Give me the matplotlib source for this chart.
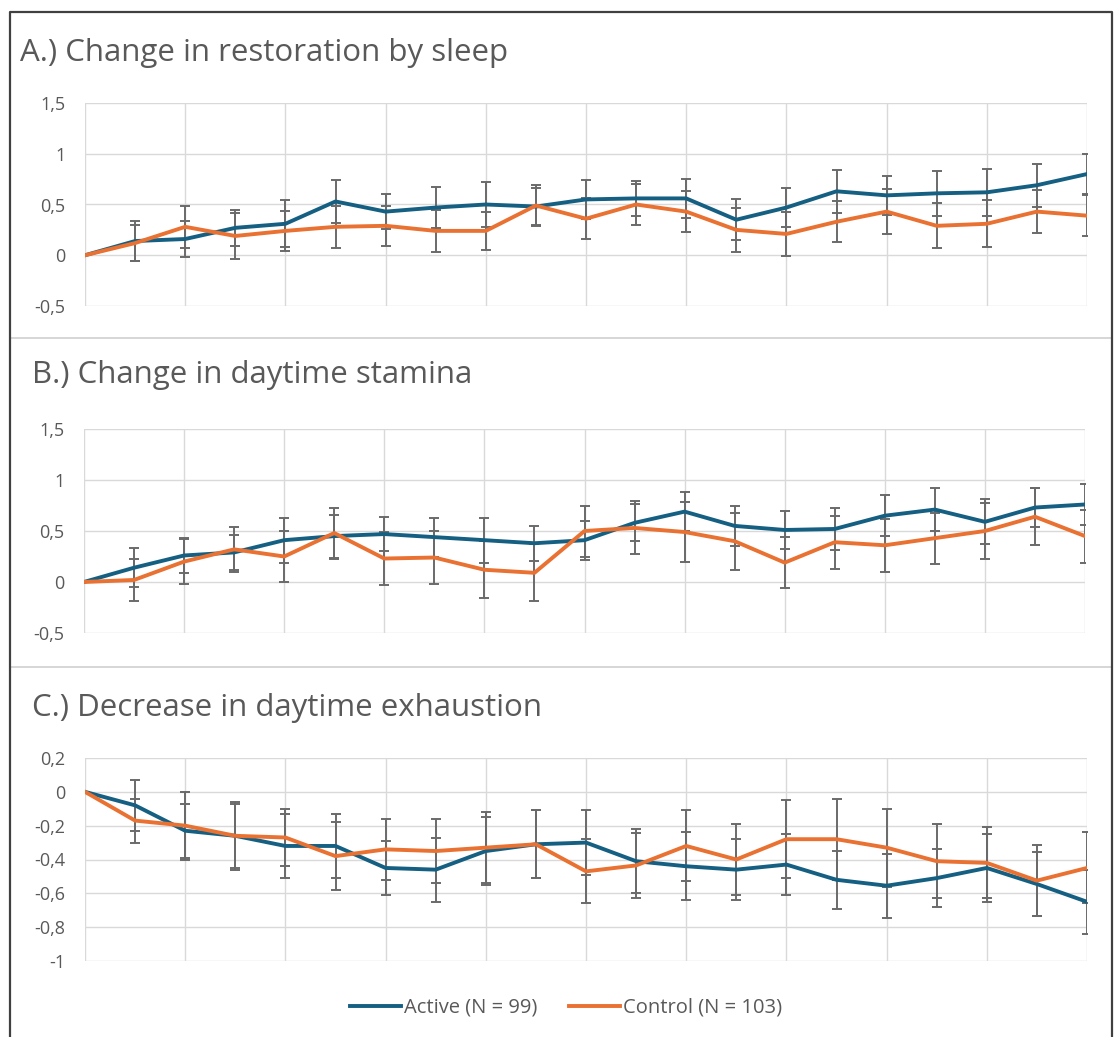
import matplotlib
matplotlib.use("Agg")
import matplotlib.pyplot as plt
from matplotlib.lines import Line2D
from matplotlib.ticker import FuncFormatter, MultipleLocator

plt.rcParams['font.family'] = ['Open Sans', 'DejaVu Sans']

W, H = 1115, 1037

days = list(range(21))

titles = ["A.) Change in restoration by sleep",
          "B.) Change in daytime stamina",
          "C.) Decrease in daytime exhaustion"]

series_names = ["Active (N = 99)", "Control (N = 103)"]

# Panel A
a_active = [0, 0.14, 0.16, 0.27, 0.31, 0.53, 0.43, 0.47, 0.50, 0.48, 0.55,
            0.56, 0.56, 0.35, 0.47, 0.63, 0.59, 0.61, 0.62, 0.69, 0.80]
a_active_err = [0, 0.20, 0.18, 0.18, 0.23, 0.21, 0.17, 0.20, 0.22, 0.18, 0.19,
                0.17, 0.19, 0.20, 0.19, 0.21, 0.19, 0.22, 0.23, 0.21, 0.20]
a_control = [0, 0.12, 0.28, 0.19, 0.24, 0.28, 0.29, 0.24, 0.24, 0.49, 0.36,
             0.50, 0.43, 0.25, 0.21, 0.33, 0.43, 0.29, 0.31, 0.43, 0.39]
a_control_err = [0, 0.18, 0.21, 0.23, 0.20, 0.21, 0.20, 0.21, 0.19, 0.20, 0.20,
                 0.20, 0.20, 0.22, 0.22, 0.20, 0.22, 0.22, 0.23, 0.21, 0.20]

# Panel B
b_active = [0, 0.14, 0.26, 0.29, 0.41, 0.45, 0.47, 0.44, 0.41, 0.38, 0.41,
            0.58, 0.69, 0.55, 0.51, 0.52, 0.65, 0.71, 0.59, 0.73, 0.76]
b_active_err = [0, 0.19, 0.17, 0.17, 0.22, 0.21, 0.17, 0.19, 0.22, 0.17, 0.19,
                0.18, 0.19, 0.20, 0.19, 0.21, 0.20, 0.21, 0.22, 0.19, 0.20]
b_control = [0, 0.02, 0.20, 0.32, 0.25, 0.48, 0.23, 0.24, 0.12, 0.09, 0.50,
             0.53, 0.49, 0.40, 0.19, 0.39, 0.36, 0.43, 0.50, 0.64, 0.45]
b_control_err = [0, 0.21, 0.22, 0.22, 0.25, 0.25, 0.26, 0.26, 0.28, 0.28, 0.25,
                 0.26, 0.29, 0.28, 0.25, 0.26, 0.26, 0.25, 0.27, 0.28, 0.26]

# Panel C
c_active = [0, -0.08, -0.23, -0.26, -0.32, -0.32, -0.45, -0.46, -0.35, -0.31, -0.30,
            -0.41, -0.44, -0.46, -0.43, -0.52, -0.555, -0.51, -0.45, -0.545, -0.65]
c_active_err = [0, 0.15, 0.16, 0.19, 0.19, 0.19, 0.16, 0.19, 0.20, 0.20, 0.19,
                0.19, 0.20, 0.18, 0.18, 0.17, 0.19, 0.17, 0.20, 0.19, 0.19]
c_control = [0, -0.17, -0.20, -0.26, -0.27, -0.38, -0.34, -0.35, -0.33, -0.31, -0.47,
             -0.435, -0.32, -0.40, -0.28, -0.28, -0.33, -0.41, -0.42, -0.525, -0.45]
c_control_err = [0, 0.13, 0.20, 0.20, 0.17, 0.20, 0.18, 0.19, 0.21, 0.20, 0.19,
                 0.19, 0.21, 0.21, 0.23, 0.24, 0.23, 0.22, 0.21, 0.21, 0.21]

panels = [
    (a_active, a_active_err, a_control, a_control_err, (-0.5, 1.5), 0.5),
    (b_active, b_active_err, b_control, b_control_err, (-0.5, 1.5), 0.5),
    (c_active, c_active_err, c_control, c_control_err, (-1.0, 0.2), 0.2),
]

BLUE = "#156082"
ORANGE = "#E97132"
ERR = "#6a6a6a"
GRID = "#d9d9d9"
TXT = "#595959"

# pixel layout: (left, top, right, bottom) of plot area, title position
axes_px = [(85, 103, 1087, 306), (84, 429, 1085, 633), (85, 758, 1087, 961)]
title_px = [(20, 53), (32, 375), (32, 708)]


def fmt(v, pos):
    if abs(v) < 1e-9:
        return "0"
    s = ("%.1f" % v).rstrip("0").rstrip(".")
    return s.replace(".", ",")


fig = plt.figure(figsize=(W / 100, H / 100), dpi=100)

for k, (act, act_e, ctl, ctl_e, ylim, step) in enumerate(panels):
    l, t, r, b = axes_px[k]
    ax = fig.add_axes([l / W, 1 - b / H, (r - l) / W, (b - t) / H])
    ax.errorbar(days, act, yerr=act_e, fmt='none', ecolor=ERR, elinewidth=1.4,
                capsize=3.5, capthick=1.4, zorder=2)
    ax.errorbar(days, ctl, yerr=ctl_e, fmt='none', ecolor=ERR, elinewidth=1.4,
                capsize=3.5, capthick=1.4, zorder=2)
    ax.plot(days, act, color=BLUE, lw=2.8, zorder=3, solid_joinstyle='round')
    ax.plot(days, ctl, color=ORANGE, lw=2.8, zorder=4, solid_joinstyle='round')
    ax.set_xlim(0, 20)
    ax.set_ylim(*ylim)
    ax.yaxis.set_major_locator(MultipleLocator(step))
    ax.xaxis.set_major_locator(MultipleLocator(2))
    ax.yaxis.set_major_formatter(FuncFormatter(fmt))
    ax.tick_params(axis='both', length=0, labelsize=13, colors=TXT, pad=14)
    ax.tick_params(axis='x', labelbottom=False)
    ax.grid(True, color=GRID, lw=1.0, zorder=0)
    ax.set_axisbelow(True)
    for s in ax.spines.values():
        s.set_visible(False)
    tx, ty = title_px[k]
    fig.text(tx / W, 1 - ty / H, titles[k], fontsize=22.5, color=TXT,
             ha='left', va='center')

# panel separators and outer frame
for y in (338, 667):
    fig.add_artist(Line2D([10 / W, 1112 / W], [1 - y / H, 1 - y / H],
                          color="#d0d0d0", lw=1.2))
fig.add_artist(Line2D([10 / W, 10 / W, 1112 / W, 1112 / W],
                      [0, 1 - 12 / H, 1 - 12 / H, 0], color="#404040", lw=1.6))

handles = [Line2D([], [], color=BLUE, lw=2.8), Line2D([], [], color=ORANGE, lw=2.8)]
fig.legend(handles, series_names, loc='center', bbox_to_anchor=(566 / W, 1 - 1008 / H),
           ncol=2, frameon=False, fontsize=14.5, labelcolor=TXT,
           handlelength=2.5, handletextpad=0.15, columnspacing=1.6)

fig.savefig("out.png", dpi=100, facecolor="white")
